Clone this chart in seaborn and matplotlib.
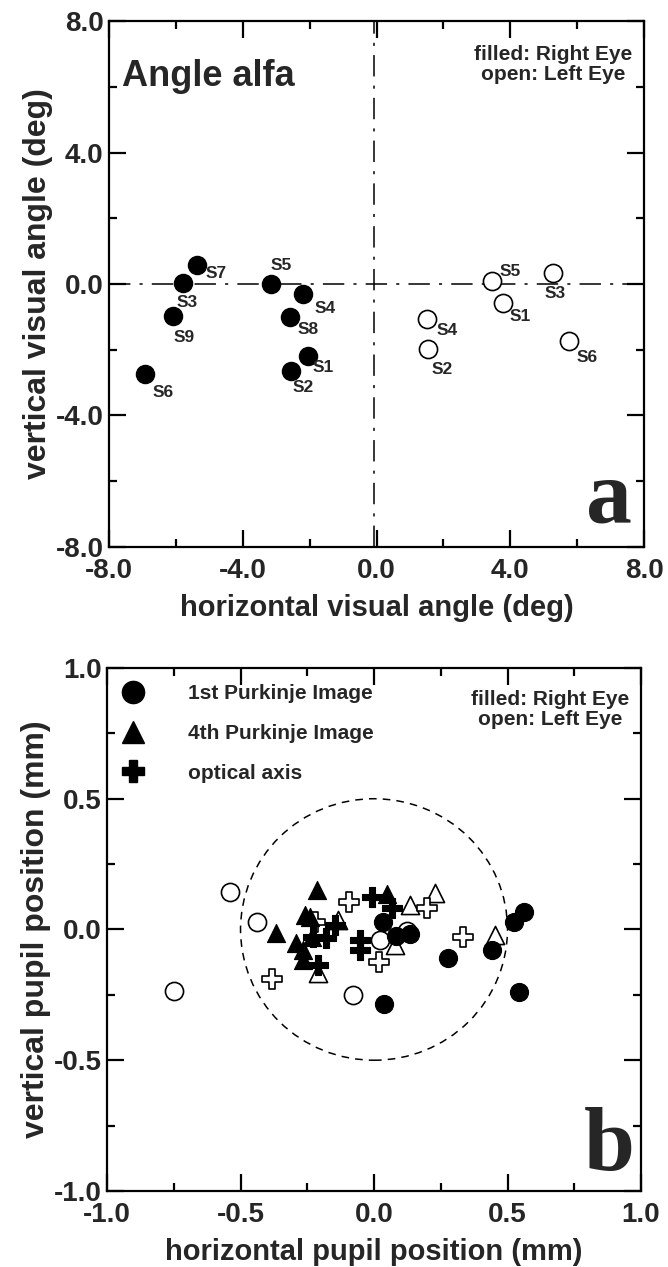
import matplotlib
matplotlib.use("Agg")
import matplotlib.pyplot as plt
from matplotlib.patches import Circle
from matplotlib.lines import Line2D
from matplotlib.ticker import MultipleLocator, FormatStrFormatter
import seaborn as sns
import pandas as pd

# ---------------- data: panel a (angle alpha, deg) ----------------
right_eye_subjects = ["S7", "S3", "S9", "S6", "S5", "S4", "S8", "S1", "S2"]
right_eye_h = [-5.38, -5.78, -6.08, -6.92, -3.16, -2.19, -2.59, -2.06, -2.56]
right_eye_v = [0.57, 0.02, -0.98, -2.74, 0.00, -0.31, -1.00, -2.19, -2.64]

left_eye_subjects = ["S5", "S3", "S1", "S4", "S2", "S6"]
left_eye_h = [3.46, 5.28, 3.79, 1.50, 1.53, 5.76]
left_eye_v = [0.09, 0.33, -0.57, -1.07, -1.98, -1.72]

ref_h_line = 0.0
ref_v_line = -0.08

# ---------------- data: panel b (pupil position, mm) ----------------
p1_right_x = [0.035, 0.081, 0.135, 0.278, 0.443, 0.525, 0.562, 0.544, 0.039]
p1_right_y = [0.030, -0.025, -0.018, -0.110, -0.078, 0.030, 0.068, -0.240, -0.285]
p1_left_x = [-0.539, -0.439, -0.749, 0.022, -0.078, 0.122]
p1_left_y = [0.145, 0.028, -0.234, -0.040, -0.250, -0.005]

p4_right_x = [-0.215, 0.047, -0.258, -0.240, -0.368, -0.233, -0.292, -0.265, -0.265]
p4_right_y = [0.151, 0.136, 0.055, 0.047, -0.012, -0.028, -0.053, -0.078, -0.117]
p4_left_x = [0.228, 0.135, 0.453, -0.209, 0.079, -0.134]
p4_left_y = [0.138, 0.094, -0.021, -0.168, -0.060, 0.036]

oa_right_x = [-0.009, 0.066, -0.146, -0.180, -0.227, -0.052, -0.052, -0.209]
oa_right_y = [0.125, 0.081, 0.017, -0.034, -0.030, -0.040, -0.078, -0.136]
oa_left_x = [-0.094, 0.197, 0.335, 0.019, -0.383, -0.220]
oa_left_y = [0.106, 0.081, -0.028, -0.123, -0.190, 0.030]

pupil_radius = 0.5
legend_labels = ["1st Purkinje Image", "4th Purkinje Image", "optical axis"]

# label offsets (pixels: right, down) for the subject tags in panel a
right_label_offsets = [(20, 8), (4, 19), (11, 21), (18, 18), (10, -18),
                       (22, 14), (18, 13), (16, 12), (12, 17)]
left_label_offsets = [(18, -10), (2, 20), (17, 14), (20, 11), (15, 20), (18, 17)]

# ---------------- style ----------------
sns.set_style("ticks")
plt.rcParams["font.family"] = ["Liberation Sans", "DejaVu Sans"]
plt.rcParams["font.weight"] = "bold"
plt.rcParams["axes.labelweight"] = "bold"

fig = plt.figure(figsize=(6.68, 12.67), dpi=100)
ax1 = fig.add_axes([0.1632, 0.5683, 0.8009, 0.4151])
ax2 = fig.add_axes([0.1602, 0.0600, 0.7994, 0.4128])


def style_axes(ax, lim, major, minor, fmt):
    ax.set_xlim(-lim, lim)
    ax.set_ylim(-lim, lim)
    ax.xaxis.set_major_locator(MultipleLocator(major))
    ax.xaxis.set_minor_locator(MultipleLocator(minor))
    ax.yaxis.set_major_locator(MultipleLocator(major))
    ax.yaxis.set_minor_locator(MultipleLocator(minor))
    ax.xaxis.set_major_formatter(FormatStrFormatter(fmt))
    ax.yaxis.set_major_formatter(FormatStrFormatter(fmt))
    ax.tick_params(which="both", direction="in", top=True, right=True,
                   width=1.6, color="black")
    ax.tick_params(which="major", length=12, labelsize=20)
    ax.tick_params(axis="x", which="major", pad=8)
    ax.tick_params(axis="y", which="major", pad=4)
    ax.tick_params(which="minor", length=6)
    for lab in ax.get_xticklabels() + ax.get_yticklabels():
        lab.set_fontweight("bold")
    for sp in ax.spines.values():
        sp.set_linewidth(1.6)
        sp.set_color("black")


# ---------------- panel a ----------------
df_r = pd.DataFrame({"h": right_eye_h, "v": right_eye_v, "s": right_eye_subjects})
df_l = pd.DataFrame({"h": left_eye_h, "v": left_eye_v, "s": left_eye_subjects})

ax1.axhline(ref_h_line, color="black", lw=1.1, ls=(0, (14, 6, 2, 6)), zorder=1)
ax1.axvline(ref_v_line, color="black", lw=1.1, ls=(0, (14, 6, 2, 6)), zorder=1)

sns.scatterplot(data=df_r, x="h", y="v", ax=ax1, marker="o", s=170,
                color="black", edgecolor="black", linewidth=1, zorder=3)
sns.scatterplot(data=df_l, x="h", y="v", ax=ax1, marker="o", s=170,
                facecolor="white", edgecolor="black", linewidth=1.2, zorder=3)

for (h, v, s), (dx, dy) in zip(zip(right_eye_h, right_eye_v, right_eye_subjects),
                               right_label_offsets):
    ax1.annotate(s, (h, v), xytext=(dx, -dy), textcoords="offset pixels",
                 ha="center", va="center", fontsize=12.5, fontweight="bold")
for (h, v, s), (dx, dy) in zip(zip(left_eye_h, left_eye_v, left_eye_subjects),
                               left_label_offsets):
    ax1.annotate(s, (h, v), xytext=(dx, -dy), textcoords="offset pixels",
                 ha="center", va="center", fontsize=12.5, fontweight="bold")

style_axes(ax1, 8.0, 4.0, 2.0, "%.1f")
ax1.set_xlabel("horizontal visual angle (deg)", fontsize=21, fontweight="bold", labelpad=7)
ax1.set_ylabel("vertical visual angle (deg)", fontsize=23, fontweight="bold", labelpad=2)

ax1.text(0.025, 0.895, "Angle alfa", transform=ax1.transAxes, fontsize=26,
         fontweight="bold", ha="left", va="center")
ax1.text(0.83, 0.917, "filled: Right Eye\nopen: Left Eye", transform=ax1.transAxes,
         fontsize=15, fontweight="bold", ha="center", va="center", linespacing=1.05)
ax1.text(0.978, 0.046, "a", transform=ax1.transAxes, fontsize=66, fontweight="bold",
         family="Liberation Serif", ha="right", va="baseline")

# ---------------- panel b ----------------
def scat(ax, xs, ys, marker, filled, s):
    d = pd.DataFrame({"x": xs, "y": ys})
    if filled:
        sns.scatterplot(data=d, x="x", y="y", ax=ax, marker=marker, s=s,
                        color="black", edgecolor="black", linewidth=0.8, zorder=3)
    else:
        sns.scatterplot(data=d, x="x", y="y", ax=ax, marker=marker, s=s,
                        facecolor="white", edgecolor="black", linewidth=1.2, zorder=3)


ax2.add_patch(Circle((0, 0), pupil_radius, fill=False, ls=(0, (5, 4)),
                     lw=1.1, color="black", zorder=1))

scat(ax2, p1_left_x, p1_left_y, "o", False, 170)
scat(ax2, p4_left_x, p4_left_y, "^", False, 170)
scat(ax2, oa_left_x, oa_left_y, "P", False, 190)
scat(ax2, p4_right_x, p4_right_y, "^", True, 170)
scat(ax2, oa_right_x, oa_right_y, "P", True, 190)
scat(ax2, p1_right_x, p1_right_y, "o", True, 170)

handles = [
    Line2D([], [], ls="none", marker="o", ms=16, mfc="black", mec="black"),
    Line2D([], [], ls="none", marker="^", ms=16, mfc="black", mec="black"),
    Line2D([], [], ls="none", marker="P", ms=16, mfc="black", mec="black"),
]
leg = ax2.legend(handles, legend_labels, loc="upper left",
                 bbox_to_anchor=(10 / 534, 1 - 16 / 523), frameon=False,
                 fontsize=15, handlelength=1.5, handletextpad=1.9,
                 borderaxespad=0, borderpad=0, labelspacing=1.0)
for t in leg.get_texts():
    t.set_fontweight("bold")

style_axes(ax2, 1.0, 0.5, 0.25, "%.1f")
ax2.set_xlabel("horizontal pupil position (mm)", fontsize=21, fontweight="bold", labelpad=7)
ax2.set_ylabel("vertical pupil position (mm)", fontsize=23, fontweight="bold", labelpad=2)

ax2.text(0.83, 0.92, "filled: Right Eye\nopen: Left Eye", transform=ax2.transAxes,
         fontsize=15, fontweight="bold", ha="center", va="center", linespacing=1.05)
ax2.text(0.989, 0.04, "b", transform=ax2.transAxes, fontsize=66, fontweight="bold",
         family="Liberation Serif", ha="right", va="baseline")

fig.savefig("out.png", dpi=100)
